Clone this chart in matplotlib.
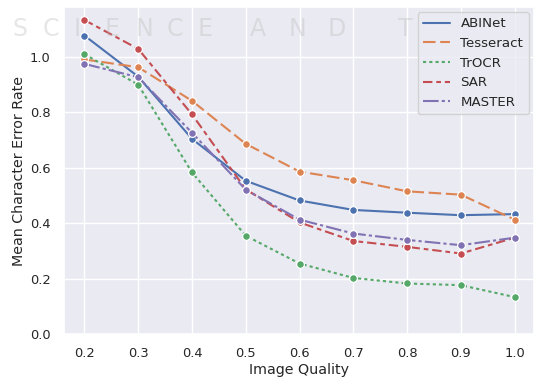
import matplotlib
matplotlib.use("Agg")
import matplotlib.pyplot as plt
from matplotlib.lines import Line2D
import seaborn as sns

sns.set_theme(style="darkgrid")
plt.rcParams['font.family'] = ['DejaVu Sans']

quality = [0.2, 0.3, 0.4, 0.5, 0.6, 0.7, 0.8, 0.9, 1.0]
abinet = [1.076, 0.928, 0.704, 0.553, 0.482, 0.448, 0.438, 0.429, 0.433]
tesseract = [0.990, 0.962, 0.841, 0.686, 0.586, 0.555, 0.515, 0.503, 0.413]
trocr = [1.009, 0.899, 0.583, 0.355, 0.255, 0.203, 0.183, 0.177, 0.134]
sar = [1.132, 1.028, 0.792, 0.522, 0.403, 0.336, 0.315, 0.291, 0.348]
master = [0.974, 0.926, 0.726, 0.521, 0.413, 0.363, 0.340, 0.321, 0.348]
models = ["ABINet", "Tesseract", "TrOCR", "SAR", "MASTER"]
yticks = [0.0, 0.2, 0.4, 0.6, 0.8, 1.0]

colors = sns.color_palette("deep", 5)
dashes = ["", (4, 1.5), (1, 1), (3, 1.25, 1.5, 1.25), (5, 1, 1, 1)]
lw = 1.5

fig = plt.figure(figsize=(5.34, 3.8), dpi=100)
ax = fig.add_axes([64 / 534, 1 - 334.3 / 380, 470 / 534, (334.3 - 6.7) / 380])

# faint publisher watermark in the background (beneath the legend)
wm_words = [("SCIENCE", 12, 31), ("AND", 250, 39), ("T", 398, 34)]
for word, x0, step in wm_words:
    for i, ch in enumerate(word):
        ax.text((x0 + i * step) / 534, 1 - 29 / 380, ch, fontsize=17,
                color="#b8b8b8", alpha=0.35, ha="left", va="center",
                transform=fig.transFigure, clip_on=False, zorder=4)

handles = []
for name, vals, c, d in zip(models, [abinet, tesseract, trocr, sar, master],
                            colors, dashes):
    line, = ax.plot(quality, vals, color=c, lw=lw, marker="o", markersize=5.6,
                    markeredgecolor="white", markeredgewidth=0.9)
    if d:
        line.set_dashes([v * lw for v in d])
    h = Line2D([], [], color=c, lw=lw)
    if d:
        h.set_dashes([v * lw for v in d])
    handles.append(h)

ax.set_xlim(0.162, 1.036)
ax.set_ylim(0.0, 1.18)
ax.set_xticks(quality)
ax.set_xticklabels([f"{q:.1f}" for q in quality])
ax.set_yticks(yticks)
ax.set_yticklabels([f"{t:.1f}" for t in yticks])
ax.tick_params(labelsize=9.4)
ax.set_xlabel("Image Quality", fontsize=10.3, labelpad=2)
ax.set_ylabel("Mean Character Error Rate", fontsize=10.3, labelpad=3)
ax.legend(handles, models, loc="upper right", fontsize=9.6,
          borderaxespad=0.4)
fig.savefig("out.png", dpi=100)
